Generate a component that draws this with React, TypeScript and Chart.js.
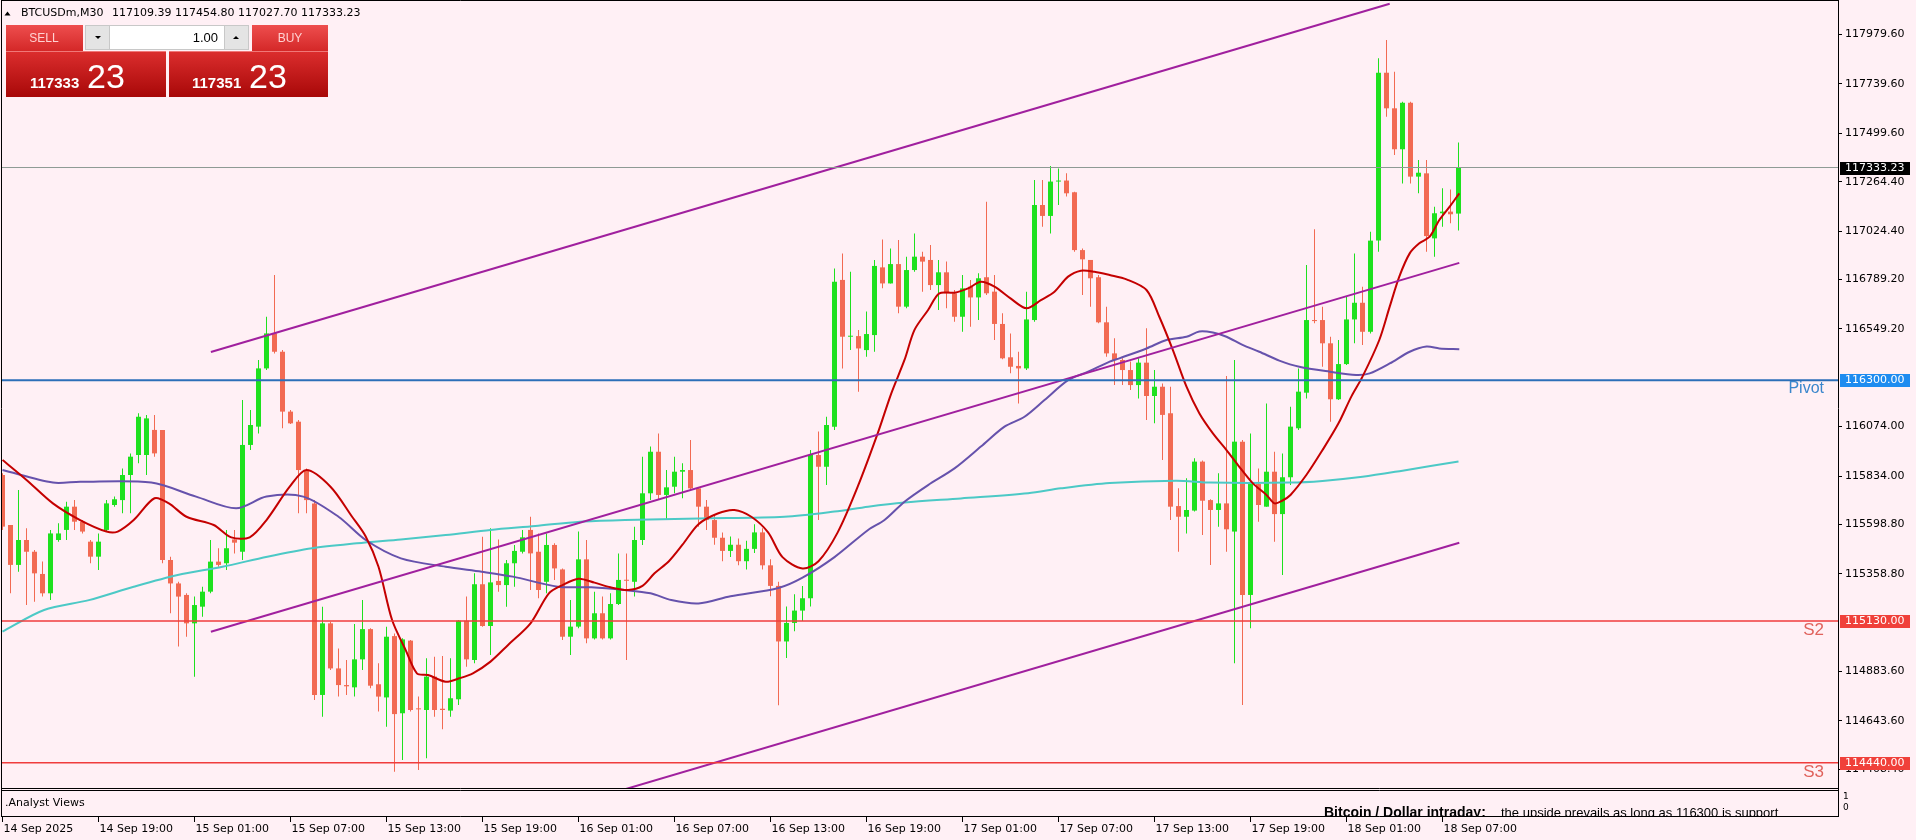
import React, { useEffect, useRef } from 'react';
import { Chart, registerables } from 'chart.js';

Chart.register(...registerables);

// ---- Candle data (M30 bars, 14 Sep 13:00 .. 18 Sep 08:00) ----
const opens = [
  115839,115596,115402,115523,115466,115358,115264,115523,115572,115685,
  115612,115515,115442,115572,115693,115717,115839,115936,115936,116058,
  116058,115426,115312,115256,115118,115199,115272,115418,115410,115526,
  115466,115985,116074,116357,116527,116438,116147,116098,115863,115701,
  114770,115118,114899,114818,114807,114943,115090,114822,114758,115056,
  114681,115034,114703,114697,114859,114703,114694,114749,115131,114940,
  115308,115105,115324,115304,115410,115466,115572,115466,115320,115499,
  115380,115053,115102,115429,115045,115167,115045,115212,115329,115320,
  115523,115750,115952,115742,115782,115855,115863,115774,115685,115620,
  115534,115470,115500,115420,115480,115560,115400,115300,115030,115120,
  115180,115240,115936,115879,116074,116787,116511,116514,116446,116519,
  116848,116770,116864,116657,116835,116900,116884,116762,116824,116722,
  116608,116754,116702,116800,116730,116573,116411,116369,116357,116592,
  117151,117098,117265,117270,117213,116932,116884,116800,116581,116430,
  116398,116349,116276,116385,116223,116268,116139,115688,115636,115666,
  115904,115717,115669,115701,115564,116001,115256,115795,115685,115855,
  115649,115828,116066,116239,116592,116592,116479,116207,116378,116595,
  116676,116535,116978,117794,117621,117422,117648,117289,117305,116989,
  117111,117119,117109.39,
];
const highs = [
  115847,115596,115766,115580,115474,115418,115572,115604,115709,115717,
  115620,115523,115555,115717,115734,115871,115944,116139,116131,116131,
  116058,115442,115320,115264,115248,115296,115523,115483,115572,115572,
  116203,116155,116398,116608,116811,116446,116155,116106,115871,115717,
  115199,115126,114996,114940,115115,115231,115094,114924,115102,115069,
  115045,115037,114762,114948,114956,114959,114948,115134,115248,115361,
  115539,115580,115526,115426,115499,115572,115636,115555,115555,115507,
  115385,115231,115564,115523,115272,115248,115264,115458,115458,115588,
  115928,115977,116041,115863,115928,115896,116009,115780,115717,115640,
  115560,115540,115530,115520,115600,115580,115430,115320,115200,115260,
  115300,115960,116050,116122,116843,116916,116827,116544,116633,116884,
  116984,116940,116981,116900,117013,116924,116957,116884,116876,116738,
  116811,116787,116819,117167,116811,116625,116527,116438,116730,117273,
  117273,117341,117329,117305,117216,116940,116884,116811,116657,116503,
  116406,116390,116406,116552,116349,116284,116268,115774,115823,115920,
  115909,115721,115847,116320,116398,116009,116041,115871,116187,115952,
  115944,116171,116357,116860,117033,116657,116511,116495,116706,116916,
  116754,117021,117864,117953,117799,117653,117653,117370,117370,117143,
  117232,117227,117454.80,
];
const lows = [
  115572,115264,115369,115207,115223,115248,115231,115515,115523,115572,
  115555,115410,115377,115564,115685,115653,115653,115896,115839,115928,
  115410,115167,115005,115053,114859,115150,115264,115393,115377,115458,
  115426,115960,116041,116349,116430,116066,116087,115653,115653,114745,
  114664,114891,114762,114770,114762,114891,114802,114689,114616,114397,
  114454,114689,114405,114462,114664,114603,114664,114721,114907,114924,
  115102,114964,115272,115199,115296,115458,115280,115240,115264,115329,
  115037,114964,115094,115021,115040,115040,115040,115207,114940,115248,
  115499,115717,115717,115620,115750,115726,115766,115588,115572,115500,
  115420,115440,115400,115380,115460,115380,115250,114720,114950,115080,
  115130,115200,115620,115790,116058,116357,116446,116244,116414,116438,
  116746,116770,116625,116649,116827,116730,116738,116641,116649,116584,
  116535,116560,116592,116714,116495,116401,116333,116187,116349,116584,
  117046,117013,117151,117192,116924,116714,116657,116576,116414,116276,
  116276,116252,116211,116106,116090,115912,115620,115466,115555,115661,
  115547,115402,115588,115466,114924,114721,115094,115612,115685,115515,
  115353,115790,116058,116211,116576,116365,116098,116203,116373,116479,
  116471,116527,116924,117580,117394,117256,117256,117208,116924,116900,
  117046,117062,117027.70,
];
const closes = [
  115588,115402,115523,115466,115361,115264,115555,115555,115685,115612,
  115564,115442,115515,115701,115721,115839,115928,116122,116114,115944,
  115426,115312,115248,115118,115207,115272,115418,115402,115483,115510,
  115985,116082,116357,116527,116438,116147,116090,115863,115717,114770,
  115118,114899,114818,114812,114943,115090,114815,114762,115053,114677,
  115040,114697,114700,114859,114697,114697,114754,115131,114943,115308,
  115105,115317,115304,115410,115470,115536,115458,115280,115499,115385,
  115053,115102,115429,115045,115167,115045,115212,115329,115325,115523,
  115750,115952,115742,115779,115855,115863,115774,115685,115620,115534,
  115470,115500,115420,115480,115560,115400,115300,115030,115120,115180,
  115240,115936,115879,116082,116778,116511,116514,116454,116524,116855,
  116770,116864,116657,116835,116900,116876,116762,116824,116722,116608,
  116746,116702,116795,116722,116573,116406,116365,116357,116595,117151,
  117098,117265,117270,117208,116932,116887,116795,116581,116430,116398,
  116349,116276,116385,116223,116268,116131,115685,115636,115669,115904,
  115714,115669,115701,115575,116001,115256,115795,115693,115855,115649,
  115828,116074,116244,116592,116587,116479,116207,116378,116595,116676,
  116535,116978,117794,117621,117422,117648,117289,117308,117000,117111,
  117119,117106,117333.23,
];

// ---- Moving averages (bar position, price) ----
const fastMaX = [0,3,6.3,9.7,13,14.4,16.4,19,20.8,23,26.4,28.6,30.9,33,35.9,38,41,43.7,45.4,47,48.7,50.4,51.8,53.2,55.4,57.1,58.8,61,63.2,66,68.3,70,72,74,76,78.2,80,81.5,83.3,85,87,89.4,91.5,93.6,95.7,97.5,100,102,104.4,106.9,109.4,111.1,112.75,114,115.7,117.1,119,120.7,122.3,124,126,128,129.8,131.5,133.2,134.8,136.5,138.4,140.5,143,144.6,146.3,148,149.6,151.3,153,154.6,156.3,158,159,160,161,163,165,167,168.6,170,172.1,173.4,174.6,175.9,177.1,178.4,179.6,180.9,182.1];
const fastMaY = [115912,115815,115701,115620,115564,115564,115620,115726,115701,115636,115596,115536,115536,115620,115782,115863,115782,115636,115540,115393,115134,114988,114875,114867,114834,114851,114875,114932,115013,115118,115264,115304,115335,115316,115293,115280,115300,115361,115420,115500,115600,115652,115669,115636,115560,115440,115385,115420,115560,115782,116041,116236,116398,116544,116641,116722,116725,116746,116778,116754,116697,116649,116689,116730,116803,116832,116827,116811,116790,116738,116608,116446,116268,116139,116041,115960,115879,115798,115742,115701,115715,115742,115840,115960,116090,116220,116317,116495,116657,116803,116916,116965,116997,117078,117143,117208];

const midMaX = [0,6.3,9.7,18.6,24.2,29.2,33,37.6,42,45.4,49.8,55.4,59.9,63.8,69.4,73.6,77.75,81,83.6,87,91,97,100,104,108.2,110.25,112.75,115.7,119,122.3,125.25,127.75,130.25,133.2,135.7,138.4,139.6,143,145.5,148,149.6,151.3,153,155,157.1,159.6,162.1,165.9,169.2,170.9,173.4,175.9,178,179.6,182.1];
const midMaY = [115863,115802,115806,115802,115734,115677,115734,115734,115636,115523,115434,115393,115369,115345,115296,115293,115280,115264,115231,115215,115250,115290,115340,115440,115572,115620,115709,115790,115871,115977,116074,116122,116203,116300,116341,116390,116406,116454,116495,116511,116536,116531,116511,116471,116438,116395,116365,116341,116325,116333,116381,116438,116463,116454,116450];

const slowMaX = [0,5.2,10.8,16.4,21.9,27.5,33.1,38.7,44.3,49.8,55.4,61,66.6,72.2,77.8,87.1,97.75,104,108.2,112.75,119.8,128.2,132.3,138.4,146.7,151,160.9,165,170,175,182];
const slowMaY = [115078,115183,115231,115296,115353,115393,115442,115483,115507,115526,115547,115572,115591,115612,115620,115628,115636,115661,115685,115705,115725,115750,115774,115800,115811,115802,115802,115810,115830,115860,115905];

// ---- Trend channel (two anchor points each) ----
const chanUpperX = [26.05, 173.4];
const chanUpperY = [116436.7, 118129.4];
const chanMidX = [26.05, 182.1];
const chanMidY = [115077, 116870];
const chanLowX = [26.05, 182.1];
const chanLowY = [113717, 115510];

// ---- Levels ----
const pivotLevel = 116300;
const s2Level = 115130;
const s3Level = 114440;
const bidPrice = 117333.23;
const headerValues = '117109.39 117454.80 117027.70 117333.23';

// ---- Axis ticks ----
const priceTicks = [117979.60,117739.60,117499.60,117264.40,117024.40,116789.20,116549.20,116074.00,115834.00,115598.80,115358.80,114883.60,114643.60,114408.40];
const timeLabels = ['14 Sep 2025','14 Sep 19:00','15 Sep 01:00','15 Sep 07:00','15 Sep 13:00','15 Sep 19:00','16 Sep 01:00','16 Sep 07:00','16 Sep 13:00','16 Sep 19:00','17 Sep 01:00','17 Sep 07:00','17 Sep 13:00','17 Sep 19:00','18 Sep 01:00','18 Sep 07:00'];
const timeLabelBars = [0,12,24,36,48,60,72,84,96,108,120,132,144,156,168,180];

const X_MIN = -0.0625;
const X_MAX = 229.4375;
const Y_MIN = 114317.8;
const Y_MAX = 118147.4;

const BG = '#FFF0F5';
const GREEN = '#1EE11E';
const RED = '#F26A52';
const FONT = '"DejaVu Sans"';

export default function App() {
  const ref = useRef<HTMLCanvasElement | null>(null);

  useEffect(() => {
    document.body.style.margin = '0';
    document.body.style.overflow = 'hidden';
    const canvas = ref.current;
    if (!canvas) return;

    const isUp = (i: number) => closes[i] >= opens[i];
    const colorFor = (c: any) => (isUp(c.dataIndex) ? GREEN : RED);
    const pts = (xs: number[], ys: number[]) => xs.map((x, i) => ({ x, y: ys[i] }));
    const hline = (v: number) => [{ x: X_MIN, y: v }, { x: X_MAX, y: v }];
    const lineDs = (label: string, data: any[], color: string, width: number, order: number, tension = 0.3) => ({
      type: 'line', label, data, borderColor: color, borderWidth: width, pointRadius: 0,
      tension, fill: false, order,
    });

    const extras = {
      id: 'extras',
      beforeDraw(chart: any) {
        const ctx = chart.ctx;
        ctx.save();
        ctx.fillStyle = BG;
        ctx.fillRect(0, 0, chart.width, chart.height);
        ctx.restore();
      },
      afterDraw(chart: any) {
        const ctx: CanvasRenderingContext2D = chart.ctx;
        const xs = chart.scales.x;
        const ys = chart.scales.y;
        const R = chart.chartArea.right;
        ctx.save();

        // frame
        ctx.strokeStyle = '#000';
        ctx.lineWidth = 1;
        const ln = (x1: number, y1: number, x2: number, y2: number) => {
          ctx.beginPath(); ctx.moveTo(x1, y1); ctx.lineTo(x2, y2); ctx.stroke();
        };
        ln(1.5, 0, 1.5, 817);
        ln(R + 0.5, 0, R + 0.5, 817);
        ln(1.5, 0.5, R + 0.5, 0.5);
        ln(1.5, 788.5, R + 0.5, 788.5);
        ln(1.5, 790.5, R + 0.5, 790.5);
        ln(1.5, 816.5, R + 0.5, 816.5);

        // level texts
        ctx.textAlign = 'right';
        ctx.textBaseline = 'alphabetic';
        ctx.fillStyle = '#3A86CC';
        ctx.font = '16px "Liberation Sans"';
        ctx.fillText('Pivot', 1824, Math.round(ys.getPixelForValue(pivotLevel)) + 13);
        ctx.fillStyle = '#E0625C';
        ctx.font = '17px "Liberation Sans"';
        ctx.fillText('S2', 1824, Math.round(ys.getPixelForValue(s2Level)) + 14);
        ctx.fillText('S3', 1824, Math.round(ys.getPixelForValue(s3Level)) + 14);

        // axis price boxes
        const box = (v: number, bg: string, txt: string) => {
          const y = Math.round(ys.getPixelForValue(v));
          ctx.fillStyle = bg;
          ctx.fillRect(R + 2, y - 6, 70, 13);
          ctx.fillStyle = '#fff';
          ctx.font = '11px ' + FONT;
          ctx.textAlign = 'left';
          ctx.textBaseline = 'middle';
          ctx.fillText(txt, R + 7, y + 0.5);
        };
        box(bidPrice, '#000', bidPrice.toFixed(2));
        box(pivotLevel, '#1E8CF0', pivotLevel.toFixed(2));
        box(s2Level, '#F0403A', s2Level.toFixed(2));
        box(s3Level, '#F0403A', s3Level.toFixed(2));

        // sub window
        ctx.fillStyle = '#000';
        ctx.font = '11px ' + FONT;
        ctx.textAlign = 'left';
        ctx.textBaseline = 'middle';
        ctx.fillText('.Analyst Views', 5, 803);
        ctx.font = '9px ' + FONT;
        ctx.fillText('1', R + 5, 797);
        ctx.fillText('0', R + 5, 808);
        ctx.save();
        ctx.beginPath();
        ctx.rect(2, 791, R - 2, 25);
        ctx.clip();
        ctx.textBaseline = 'alphabetic';
        ctx.font = 'bold 14px "Liberation Sans"';
        ctx.fillText('Bitcoin / Dollar intraday:', 1324, 817);
        ctx.font = '13px "Liberation Sans"';
        ctx.fillText('the upside prevails as long as 116300 is support', 1501, 817);
        ctx.restore();

        // time axis
        ctx.font = '11px ' + FONT;
        ctx.textBaseline = 'middle';
        ctx.textAlign = 'left';
        timeLabelBars.forEach((b, i) => {
          const x = Math.floor(xs.getPixelForValue(b)) + 0.5;
          ctx.strokeStyle = '#000';
          ln(x, 817, x, 822);
          ctx.fillStyle = '#000';
          ctx.fillText(timeLabels[i], x + 1, 829);
        });

        // header
        ctx.fillStyle = '#000';
        ctx.beginPath();
        ctx.moveTo(4.5, 15.5); ctx.lineTo(10.5, 15.5); ctx.lineTo(7.5, 11.5); ctx.closePath(); ctx.fill();
        ctx.font = '11px ' + FONT;
        ctx.textBaseline = 'middle';
        ctx.fillText('BTCUSDm,M30', 21, 13);
        ctx.fillText(headerValues, 112, 13);

        // trade widget
        const grad = (x: number, y: number, w: number, h: number, c1: string, c2: string) => {
          const g = ctx.createLinearGradient(0, y, 0, y + h);
          g.addColorStop(0, c1); g.addColorStop(1, c2);
          ctx.fillStyle = g; ctx.fillRect(x, y, w, h);
        };
        grad(6, 25, 77, 26, '#EE4E4E', '#D42828');
        grad(252, 25, 76, 26, '#EE4E4E', '#D42828');
        grad(6, 51, 160, 46, '#DC2E2E', '#A80808');
        grad(169, 51, 159, 46, '#DC2E2E', '#A80808');
        ctx.fillStyle = '#F07878';
        ctx.fillRect(6, 51, 160, 1);
        ctx.fillRect(169, 51, 159, 1);
        // spinner
        ctx.fillStyle = '#C8C8C8';
        ctx.fillRect(85, 25, 164, 25);
        ctx.fillStyle = '#E4E4E4';
        ctx.fillRect(86, 26, 23, 23);
        ctx.fillRect(225, 26, 23, 23);
        ctx.fillStyle = '#fff';
        ctx.fillRect(110, 26, 114, 23);
        ctx.fillStyle = '#000';
        ctx.beginPath(); ctx.moveTo(95, 36); ctx.lineTo(101, 36); ctx.lineTo(98, 39); ctx.closePath(); ctx.fill();
        ctx.beginPath(); ctx.moveTo(233, 39); ctx.lineTo(239, 39); ctx.lineTo(236, 36); ctx.closePath(); ctx.fill();
        ctx.font = '13px "Liberation Sans"';
        ctx.textAlign = 'right';
        ctx.textBaseline = 'middle';
        ctx.fillText('1.00', 218, 38);
        ctx.textAlign = 'center';
        ctx.fillStyle = '#FFD2D2';
        ctx.font = '12px "Liberation Sans"';
        ctx.fillText('SELL', 44, 39);
        ctx.fillText('BUY', 290, 39);
        ctx.fillStyle = '#fff';
        ctx.textAlign = 'left';
        ctx.textBaseline = 'alphabetic';
        ctx.font = 'bold 15px "Liberation Sans"';
        ctx.fillText('117333', 30, 88);
        ctx.fillText('117351', 192, 88);
        ctx.font = '34px "Liberation Sans"';
        ctx.fillText('23', 87, 88);
        ctx.fillText('23', 249, 88);

        ctx.restore();
      },
    };

    const chart = new Chart(canvas, {
      type: 'bar',
      data: {
        datasets: [
          {
            type: 'bar', label: 'wicks',
            data: opens.map((_, i) => ({ x: i, y: [lows[i], highs[i]] })),
            backgroundColor: colorFor, barThickness: 1, grouped: false,
            inflateAmount: 0, borderWidth: 0, minBarLength: 1, order: 20,
          },
          {
            type: 'bar', label: 'bodies',
            data: opens.map((o, i) => ({ x: i, y: [o, closes[i]] })),
            backgroundColor: colorFor, barThickness: 5, grouped: false,
            inflateAmount: 0, borderWidth: 0, minBarLength: 1, order: 19,
          },
          lineDs('MA slow', pts(slowMaX, slowMaY), '#4CC9C6', 2, 18),
          lineDs('MA mid', pts(midMaX, midMaY), '#6652AC', 2, 17),
          lineDs('MA fast', pts(fastMaX, fastMaY), '#C40000', 2, 16),
          lineDs('Channel upper', pts(chanUpperX, chanUpperY), '#A0209E', 2, 15, 0),
          lineDs('Channel mid', pts(chanMidX, chanMidY), '#A0209E', 2, 15, 0),
          lineDs('Channel low', pts(chanLowX, chanLowY), '#A0209E', 2, 15, 0),
          lineDs('Bid', hline(bidPrice), '#8E9A94', 1, 14, 0),
          lineDs('Pivot', hline(pivotLevel), '#2C6FB8', 2, 13, 0),
          lineDs('S2', hline(s2Level), '#F03C3C', 1.5, 13, 0),
          lineDs('S3', hline(s3Level), '#F03C3C', 1.5, 13, 0),
        ] as any,
      },
      options: {
        responsive: false,
        animation: false,
        devicePixelRatio: 1,
        events: [],
        layout: { padding: { left: 2, top: 0, right: 0, bottom: 52 } },
        plugins: { legend: { display: false }, tooltip: { enabled: false } },
        scales: {
          x: { type: 'linear', display: false, min: X_MIN, max: X_MAX, offset: false, grid: { display: false } },
          y: {
            type: 'linear', position: 'right', min: Y_MIN, max: Y_MAX,
            afterBuildTicks: (s: any) => { s.ticks = priceTicks.map((v) => ({ value: v })); },
            afterFit: (s: any) => { s.width = 78; s.paddingTop = 0; s.paddingBottom = 0; },
            border: { display: false },
            grid: { display: true, drawOnChartArea: false, drawTicks: true, tickLength: 4, tickColor: '#000', color: '#000' },
            ticks: {
              autoSkip: false, padding: 3, color: '#000',
              font: { family: 'DejaVu Sans', size: 11 },
              callback: (v: any) => Number(v).toFixed(2),
            },
          },
        },
      } as any,
      plugins: [extras as any],
    });
    return () => chart.destroy();
  }, []);

  return <canvas ref={ref} width={1916} height={840} style={{ display: 'block', width: '1916px', height: '840px' }} />;
}
